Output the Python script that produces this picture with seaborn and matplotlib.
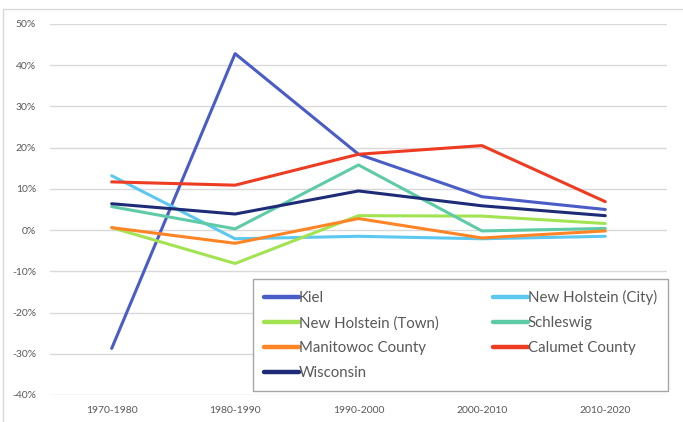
import matplotlib
matplotlib.use("Agg")
import matplotlib.pyplot as plt
import seaborn as sns
import pandas as pd
from matplotlib.patches import Rectangle
from matplotlib.lines import Line2D
from matplotlib.ticker import FuncFormatter

periods = ["1970-1980", "1980-1990", "1990-2000", "2000-2010", "2010-2020"]
kiel = [-28.7, 42.8, 18.4, 8.1, 5.0]
nh_city = [13.2, -2.1, -1.5, -2.1, -1.5]
nh_town = [0.6, -8.1, 3.5, 3.4, 1.6]
schleswig = [5.7, 0.3, 15.8, -0.2, 0.4]
manitowoc = [0.6, -3.2, 2.8, -1.9, -0.2]
calumet = [11.7, 10.9, 18.4, 20.5, 6.9]
wisconsin = [6.4, 3.9, 9.5, 5.9, 3.5]

series = {
    "Kiel": kiel,
    "New Holstein (City)": nh_city,
    "New Holstein (Town)": nh_town,
    "Schleswig": schleswig,
    "Manitowoc County": manitowoc,
    "Calumet County": calumet,
    "Wisconsin": wisconsin,
}
colors = {
    "Kiel": "#4A5CC6",
    "New Holstein (City)": "#5CC8F0",
    "New Holstein (Town)": "#A2E352",
    "Schleswig": "#5ECBA6",
    "Manitowoc County": "#FF8426",
    "Calumet County": "#EE3C22",
    "Wisconsin": "#1E2C78",
}

rows = []
for name, vals in series.items():
    for i, (p, v) in enumerate(zip(periods, vals)):
        rows.append({"period": p, "idx": i, "value": v, "series": name})
df = pd.DataFrame(rows)

sns.set_theme(style="white")
plt.rcParams["font.family"] = ["Lato", "DejaVu Sans"]

fig = plt.figure(figsize=(6.83, 4.22), dpi=100)
ax = fig.add_axes([50/683, 1-395/422, 617/683, (395-24)/422])

sns.lineplot(data=df, x="idx", y="value", hue="series", palette=colors,
             hue_order=list(series.keys()), linewidth=2.2, ax=ax, legend=False,
             sort=False)

ax.set_xlim(-0.5, 4.5)
ax.set_ylim(-40, 50)
ax.set_yticks(range(-40, 51, 10))
ax.yaxis.set_major_formatter(FuncFormatter(lambda v, p: f"{int(v)}%"))
ax.set_xticks(range(5))
ax.set_xticklabels(periods)
ax.set_xlabel("")
ax.set_ylabel("")
ax.grid(axis="y", color="#D9D9D9", linewidth=1)
ax.set_axisbelow(True)
for s in ax.spines.values():
    s.set_visible(False)
ax.tick_params(axis="both", length=0, labelsize=7.5, colors="#595959")
ax.tick_params(axis="y", pad=10)
ax.tick_params(axis="x", pad=8)

# legend: row-major display using matplotlib's column-major filling
order = ["Kiel", "New Holstein (Town)", "Manitowoc County", "Wisconsin",
         "New Holstein (City)", "Schleswig", "Calumet County"]
handles = [Line2D([0], [0], color=colors[n], lw=3.2) for n in order]
leg = ax.legend(handles, order, ncol=2, loc="upper left",
                bbox_to_anchor=((253-50)/617, (395-387)/371, (668-253)/617, (387-279)/371),
                mode="expand", frameon=True, fancybox=False, framealpha=1,
                edgecolor="#A6A6A6", fontsize=10.8, handlelength=2.3,
                handletextpad=0.0, labelspacing=0.72, borderpad=0.75,
                columnspacing=1.0, borderaxespad=0)
leg.get_frame().set_linewidth(1.0)
for t in leg.get_texts():
    t.set_color("#595959")

# chart border
fig.patches.append(Rectangle((3/683, -0.1), 1.2, 1.1 - 9/422, transform=fig.transFigure,
                             fill=False, edgecolor="#D9D9D9", linewidth=1))

fig.savefig("out.png", dpi=100)
